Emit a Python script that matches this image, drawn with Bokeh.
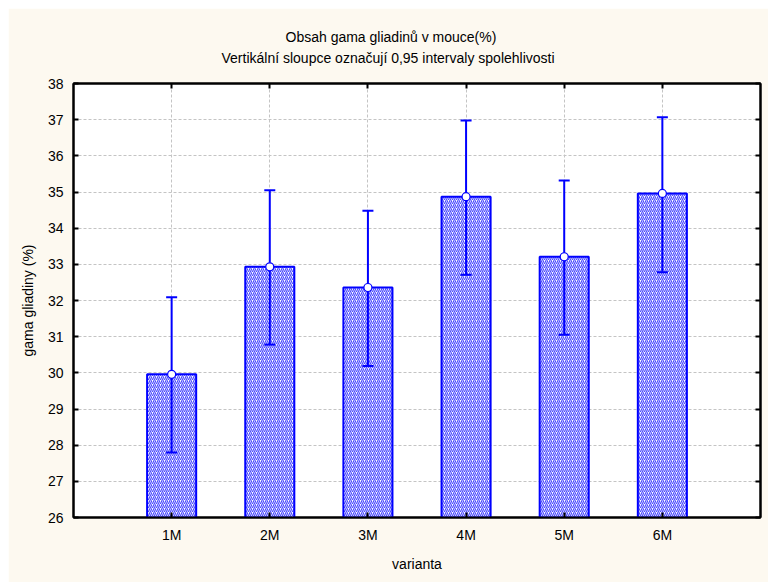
from bokeh.plotting import figure
from bokeh.models import (Range1d, FixedTicker, LinearAxis, Title, Spacer)
from bokeh.layouts import column, row
from bokeh.embed import file_html
from bokeh.resources import INLINE

# ---- data ----
categories = ["1M", "2M", "3M", "4M", "5M", "6M"]
means = [29.96, 32.93, 32.36, 34.87, 33.21, 34.96]
ci_low = [27.80, 30.78, 30.19, 32.71, 31.05, 32.78]
ci_high = [32.09, 35.05, 34.48, 36.98, 35.32, 37.07]
y_ticks = list(range(26, 39))

title_text = "Obsah gama gliadinů v mouce(%)"
subtitle_text = "Vertikální sloupce označují 0,95 intervaly spolehlivosti"
x_label = "varianta"
y_label = "gama gliadiny (%)"

FONT = "Liberation Sans"
BG = "#FDF9F0"
BLUE = "#0000FF"

xs = list(range(1, len(categories) + 1))

p = figure(width=760, height=574, output_backend="svg", toolbar_location=None,
           x_range=Range1d(0, len(categories) + 1), y_range=Range1d(y_ticks[0], y_ticks[-1]),
           background_fill_color="white", border_fill_color=BG,
           min_border_left=65, min_border_right=8, min_border_top=75, min_border_bottom=65)

p.outline_line_color = "black"
p.outline_line_width = 2

# grids
for g in (p.xgrid, p.ygrid):
    g.grid_line_color = "#c4c4c4"
    g.grid_line_dash = "3 2"
    g.grid_line_width = 1
p.xgrid.ticker = FixedTicker(ticks=xs)
p.ygrid.ticker = FixedTicker(ticks=y_ticks)

# bottom / left axes
xa = p.xaxis[0]
xa.ticker = FixedTicker(ticks=xs)
xa.major_label_overrides = {x: c for x, c in zip(xs, categories)}
xa.axis_label = x_label
ya = p.yaxis[0]
ya.ticker = FixedTicker(ticks=y_ticks)
ya.axis_label = y_label

for ax in (xa, ya):
    ax.axis_line_color = "black"
    ax.axis_line_width = 2
    ax.major_tick_in = 5
    ax.major_tick_out = 0
    ax.major_tick_line_width = 2
    ax.major_tick_line_color = "black"
    ax.minor_tick_line_color = None
    ax.major_label_text_font = FONT
    ax.major_label_text_font_size = "14px"
    ax.major_label_text_color = "black"
    ax.axis_label_text_font = FONT
    ax.axis_label_text_font_size = "14px"
    ax.axis_label_text_font_style = "normal"
    ax.axis_label_text_color = "black"
xa.major_label_standoff = 9
xa.axis_label_standoff = 10
ya.major_label_standoff = 10
ya.axis_label_standoff = 9

# right and top axes (ticks only)
ra = LinearAxis(ticker=FixedTicker(ticks=y_ticks),
                major_label_overrides={t: "" for t in y_ticks})
ta = LinearAxis(ticker=FixedTicker(ticks=xs),
                major_label_overrides={x: " " for x in xs})
for ax in (ra, ta):
    ax.axis_line_color = "black"
    ax.axis_line_width = 2
    ax.major_tick_in = 5
    ax.major_tick_out = 0
    ax.major_tick_line_width = 2
    ax.major_tick_line_color = "black"
    ax.minor_tick_line_color = None
    ax.major_label_text_font_size = "1px"
    ax.major_label_standoff = 0
ta.major_label_standoff = 11
p.add_layout(ra, "right")
p.add_layout(ta, "above")

# titles
p.add_layout(Title(text=subtitle_text, align="left", offset=148, standoff=5,
                   text_font=FONT, text_font_size="14px", text_font_style="normal",
                   text_color="black"), "above")
p.add_layout(Title(text=title_text, align="left", offset=212, standoff=2,
                   text_font=FONT, text_font_size="14px", text_font_style="normal",
                   text_color="black"), "above")

# bars
p.vbar(x=xs, top=means, bottom=y_ticks[0], width=0.5,
       fill_color="white", line_color=BLUE, line_width=2,
       hatch_pattern="/", hatch_color=BLUE, hatch_alpha=0.7,
       hatch_scale=4, hatch_weight=1.2)

# error bars
p.segment(x0=xs, y0=ci_low, x1=xs, y1=ci_high, line_color=BLUE, line_width=2)
p.scatter(x=xs + xs, y=ci_low + ci_high, marker="dash", size=11,
          line_color=BLUE, line_width=2)

# means
p.scatter(x=xs, y=means, marker="circle", size=8, fill_color="white",
          line_color=BLUE, line_width=1.2)

layout = column(Spacer(height=8), row(Spacer(width=8), p))
open("out.html", "w").write(file_html(layout, INLINE))
